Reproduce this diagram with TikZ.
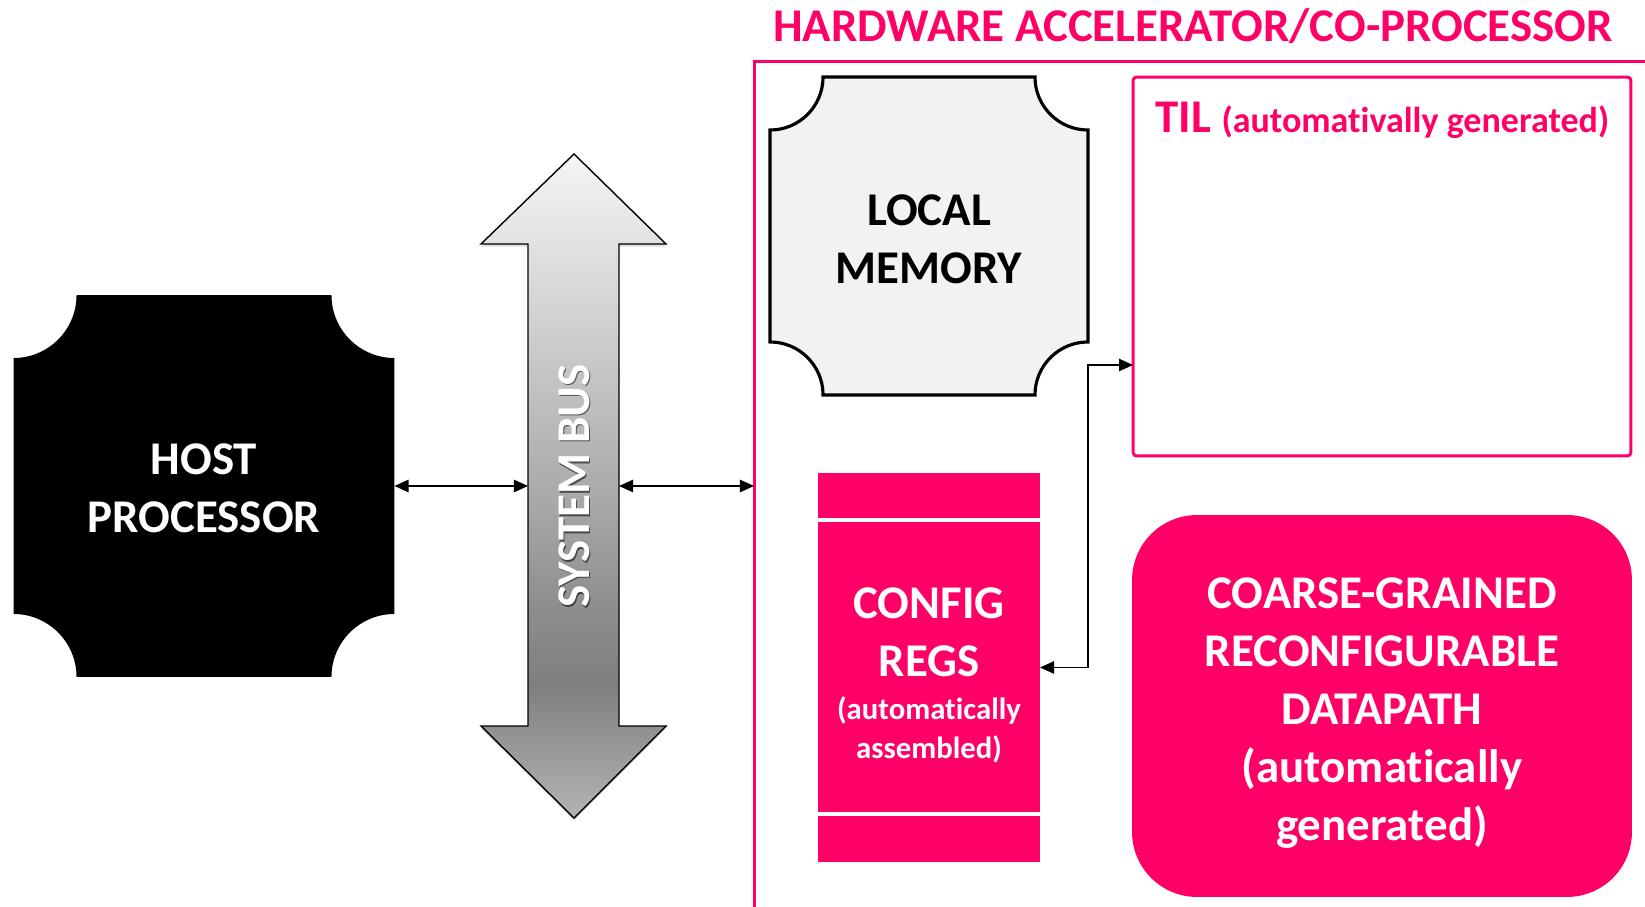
\documentclass[tikz,border=0pt]{standalone}
\usepackage{fontspec}
\setmainfont{Carlito}[Ligatures=NoCommon]
\usepackage{tikz}
\usetikzlibrary{arrows.meta, positioning, calc, backgrounds, shadows}
\definecolor{AccPink}{RGB}{255, 0, 102}
\definecolor{MemGray}{RGB}{242, 242, 242}
\definecolor{BusTop}{RGB}{245, 245, 245}
\definecolor{BusUp}{RGB}{210, 210, 210}
\definecolor{BusMid}{RGB}{172, 172, 172}
\definecolor{BusLow}{RGB}{142, 142, 142}
\definecolor{BusDark}{RGB}{127, 127, 127}
\definecolor{BusTip}{RGB}{180, 180, 180}

\pgfdeclareverticalshading{busfade}{100bp}{color(0bp)=(BusTip); color(25bp)=(BusTip);
  color(35bp)=(BusDark); color(41bp)=(BusLow); color(50bp)=(BusMid);
  color(63bp)=(BusUp); color(75bp)=(BusTop); color(100bp)=(BusTop)}

\newcommand{\bigfont}{\fontsize{26.7}{33}\selectfont\bfseries}
\newcommand{\subfont}{\fontsize{20.5}{25}\selectfont\bfseries}
\newcommand{\smallfont}{\fontsize{17.5}{22}\selectfont\bfseries}

% outline with concave (notched) corners around a node
\newcommand{\notched}[3]{%
  \path[#3] ([xshift=#2]#1.north west) -- ([xshift=-#2]#1.north east)
    arc[start angle=180, end angle=270, radius=#2]
    -- ([yshift=#2]#1.south east)
    arc[start angle=90, end angle=180, radius=#2]
    -- ([xshift=#2]#1.south west)
    arc[start angle=0, end angle=90, radius=#2]
    -- ([yshift=-#2]#1.north west)
    arc[start angle=270, end angle=360, radius=#2] -- cycle;}

\begin{document}
\begin{tikzpicture}[x=0.02cm, y=0.02cm,
  box/.style={inner sep=0pt, outer sep=0pt},
  txt/.style={inner sep=0pt, align=center, font=\bigfont},
  link/.style={{Triangle[length=8pt,width=7pt]}-{Triangle[length=8pt,width=7pt]}, line width=1pt},
  frame/.style={draw=AccPink, line width=1.7pt},
  regsep/.style={draw=white, line width=2.2pt},
  busarrow/.style={shade, shading=busfade, draw=black, line width=0.8pt,
    drop shadow={opacity=0.25, shadow xshift=0pt, shadow yshift=-1.5pt}}
]
\useasboundingbox (0,0) rectangle (1645,906);

% host side
\node[box, minimum width=7.62cm, minimum height=7.64cm] (host) at (204,420) {};
\node[txt, text=white] (hosttext) at ([yshift=-0.05cm]host.center) {HOST\\PROCESSOR};

\path[busarrow] (574,752) -- (666,662) -- (619,662) -- (619,180) -- (666,180)
  -- (574,88) -- (481,180) -- (528,180) -- (528,662) -- (481,662) -- cycle;
\node[font=\bigfont, rotate=90, text=black, opacity=0.55] (busglow) at (575.5,418.5) {SYSTEM BUS};
\node[font=\bigfont, rotate=90, text=white] (buslabel) at (574,420) {SYSTEM BUS};

% accelerator
\coordinate (accel) at (754,844);
\draw[frame] (754,-10) -- (accel) -- (1660,844);
\node[font=\bigfont, text=AccPink, anchor=base, inner sep=0pt] (title) at (1193,864) {HARDWARE ACCELERATOR/CO-PROCESSOR};

\node[box, minimum width=6.36cm, minimum height=6.36cm] (mem) at (929,670) {};
\node[txt] (memtext) at ([yshift=-0.06cm]mem.center) {LOCAL\\MEMORY};

\node[box, draw=AccPink, line width=1.7pt, rounded corners=2pt,
  minimum width=9.96cm, minimum height=7.58cm] (til) at (1382,639.5) {};
\node[anchor=base west, text=AccPink, font=\bigfont, inner sep=0pt] (tilname) at (1155,773)
  {TIL {\subfont (automativally generated)}};

\node[box, fill=AccPink, minimum width=4.44cm, minimum height=7.78cm] (cfg) at (929,238.5) {};
\draw[regsep] ([yshift=-0.94cm]cfg.north west) -- ([yshift=-0.94cm]cfg.north east);
\draw[regsep] ([yshift=0.96cm]cfg.south west) -- ([yshift=0.96cm]cfg.south east);
\node[txt, text=white] (cfgtext) at ([yshift=-0.155cm]cfg.center)
  {CONFIG\\REGS\\[-8pt]\smallfont (automatically\\[-11pt]\smallfont assembled)};

\node[box, fill=AccPink, rounded corners=1.3cm, minimum width=10cm, minimum height=7.64cm] (cgra) at (1382,200) {};
\node[txt, text=white] (cgratext) at ([yshift=-0.14cm]cgra.center)
  {COARSE-GRAINED\\RECONFIGURABLE\\DATAPATH\\(automatically\\generated)};

\begin{scope}[on background layer]
  \notched{host}{1.26cm}{fill=black}
  \notched{mem}{1.06cm}{draw=black, line width=1.8pt, fill=MemGray}
\end{scope}

% connections
\coordinate (busW) at (528,420);
\coordinate (busE) at (619,420);
\draw[link] (host.east) -- (busW);
\draw[link] (busE) -- (busE -| accel);
\draw[link] (cfg.east) -- ++(48,0) |- ($(til.south west)!0.24!(til.north west)$);
\end{tikzpicture}
\end{document}
